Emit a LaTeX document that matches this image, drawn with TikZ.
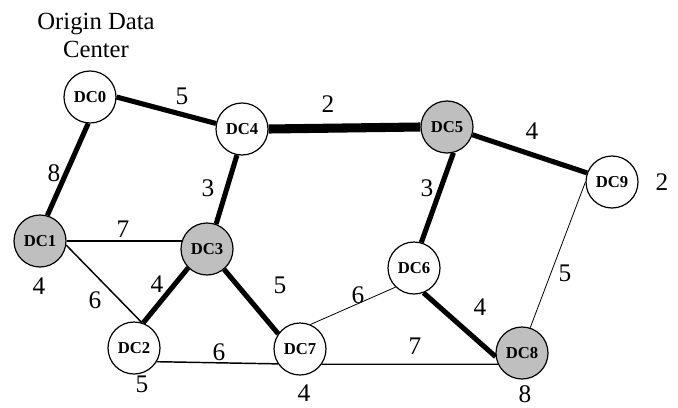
\documentclass[tikz,border=0pt]{standalone}
\usepackage{fontspec}
\setmainfont{Liberation Serif}
\usetikzlibrary{backgrounds}
\begin{document}
\begin{tikzpicture}[x=0.75pt,y=-0.75pt,
  dc/.style={circle,draw,line width=0.9pt,minimum size=39pt,inner sep=0pt,
             fill=white,font=\fontsize{12.5}{12.5}\selectfont\bfseries},
  dcg/.style={dc,fill=gray!50},
  heavy/.style={line width=3.8pt},
  heavier/.style={line width=6.8pt},
  light/.style={line width=1.1pt},
  faint/.style={line width=0.6pt},
  num/.style={font=\fontsize{19}{19}\selectfont,inner sep=0pt}]
\useasboundingbox (0,0) rectangle (678,407);

% data centres
\node[dc]  (DC0) at (90,97)   {DC0};
\node[dc]  (DC4) at (242,129) {DC4};
\node[dcg] (DC5) at (447,127) {DC5};
\node[dc]  (DC9) at (612,182) {DC9};
\node[dcg] (DC1) at (40,241)  {DC1};
\node[dcg] (DC3) at (207,249) {DC3};
\node[dc]  (DC6) at (414,268) {DC6};
\node[dc]  (DC2) at (134,348) {DC2};
\node[dc]  (DC7) at (300,349) {DC7};
\node[dcg] (DC8) at (522,353) {DC8};

\node[font=\fontsize{18.5}{21}\selectfont,align=center] (origin) at (96,35)
  {Origin Data\\Center};

% links, each leaving its circles at fixed border points
\begin{scope}[on background layer]
  \draw[heavy]   (DC0.0)    -- (DC4.168);
  \draw[heavier] (DC4.east) -- (DC5.west);
  \draw[heavy]   (DC5.-17)  -- (DC9.160);
  \draw[heavy]   (DC0.-94)  -- (DC1.74);
  \draw[heavy]   (DC4.-101) -- (DC3.70);
  \draw[heavy]   (DC5.-76)  -- (DC6.74);
  \draw[light]   (DC1) -- (DC1 -| DC3);
  \draw[light]   (DC1.-9)   -- (DC2.73);
  \draw[heavy]   (DC3.-135) -- (DC2.70);
  \draw[heavy]   (DC3.-50)  -- (DC7.145);
  \draw[faint]   (DC7.67)   -- (DC6.226);
  \draw[heavy]   (DC6.-69)  -- (DC8.188);
  \draw[faint]   (DC9.180)  -- (DC8.72);
  \draw[light]   (DC2.-31)  -- (DC7.214);
  \draw[light]   (DC7.-35)  -- (DC8.205);
\end{scope}

% link costs
\node[num] (w04) at (182,96)  {5};
\node[num] (w45) at (328,104) {2};
\node[num] (w59) at (532,131) {4};
\node[num] (w01) at (54,173)  {8};
\node[num] (w43) at (208,188) {3};
\node[num] (w56) at (427,188) {3};
\node[num] (w13) at (123,229) {7};
\node[num] (w12) at (95,300)  {6};
\node[num] (w32) at (157,284) {4};
\node[num] (w37) at (280,285) {5};
\node[num] (w76) at (358,295) {6};
\node[num] (w68) at (480,307) {4};
\node[num] (w98) at (565,273) {5};
\node[num] (w27) at (219,352) {6};
\node[num] (w78) at (415,346) {7};

% node values
\node[num] (v1) at (39,286)  {4};
\node[num] (v2) at (142,384) {5};
\node[num] (v7) at (304,393) {4};
\node[num] (v8) at (525,394) {8};
\node[num] (v9) at (662,182) {2};
\end{tikzpicture}
\end{document}
